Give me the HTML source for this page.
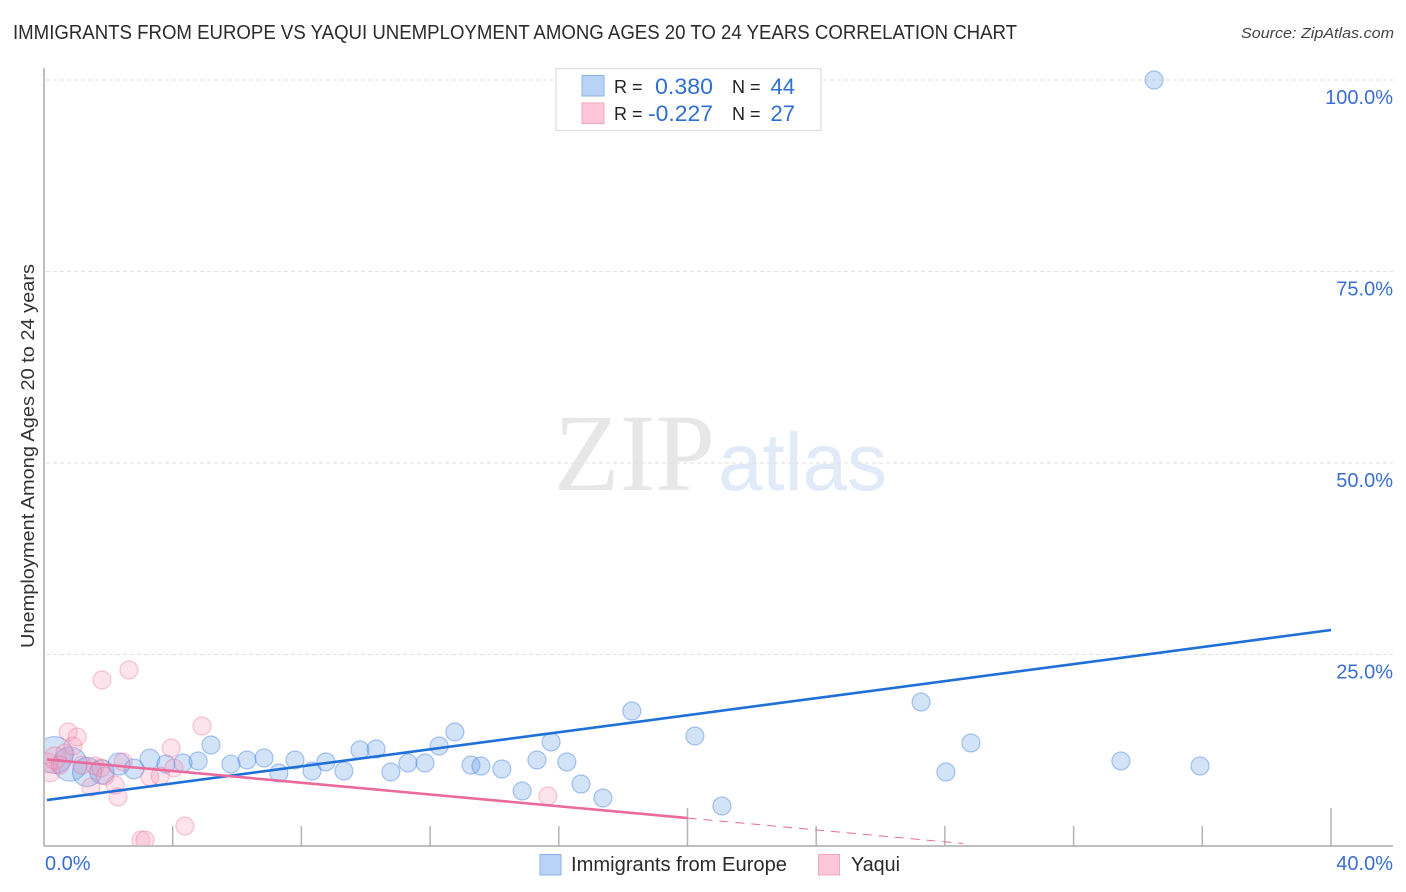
<!DOCTYPE html>
<html lang="en">
<head>
<meta charset="utf-8">
<title>Immigrants from Europe vs Yaqui Unemployment Correlation Chart</title>
<style>
html,body{margin:0;padding:0;background:#fff;}
svg{display:block;font-family:"Liberation Sans",sans-serif;}
</style>
</head>
<body>
<svg id="chart" xmlns="http://www.w3.org/2000/svg" width="1406" height="892" viewBox="0 0 1406 892">
  <defs>
    <clipPath id="plot-clip"><rect x="45" y="60" width="1361" height="785"/></clipPath>
  </defs>
  <rect x="0" y="0" width="1406" height="892" fill="#ffffff"/>
  <text x="13" y="39" font-size="20" fill="#2b2b2b" textLength="1004" lengthAdjust="spacingAndGlyphs">IMMIGRANTS FROM EUROPE VS YAQUI UNEMPLOYMENT AMONG AGES 20 TO 24 YEARS CORRELATION CHART</text>
  <text x="1241" y="38" font-size="15" font-style="italic" fill="#444" textLength="153" lengthAdjust="spacingAndGlyphs">Source: ZipAtlas.com</text>
  <g>
    <text x="554" y="490" font-family="'Liberation Serif',serif" font-size="110" fill="#e7e7e7" textLength="161" lengthAdjust="spacingAndGlyphs">ZIP</text>
    <text x="718" y="490" font-size="82" fill="#e0eaf8" textLength="169" lengthAdjust="spacingAndGlyphs">atlas</text>
  </g>
  <g id="grid"></g>
  <g id="ticks"></g>
  <line x1="44" y1="68" x2="44" y2="846" stroke="#aaaaaa" stroke-width="1.5"/>
  <line x1="44" y1="846" x2="1393" y2="846" stroke="#aaaaaa" stroke-width="1.5"/>
  <g id="dots-blue" clip-path="url(#plot-clip)"></g>
  <g id="dots-pink" clip-path="url(#plot-clip)"></g>
  <g id="trends"></g>
  <g id="y-labels"></g>
  <g id="x-labels"></g>
  <text transform="translate(34,648) rotate(-90)" font-size="18" fill="#333" textLength="384" lengthAdjust="spacingAndGlyphs">Unemployment Among Ages 20 to 24 years</text>

  <g>
    <rect x="556" y="68.5" width="265" height="62" fill="#ffffff" stroke="#dddddd" stroke-width="1.2"/>
    <rect x="582" y="75.5" width="22" height="20.5" fill="#b9d3f7" stroke="#8ab0e8" stroke-width="1"/>
    <rect x="582" y="103" width="22" height="20.5" fill="#fcc6d8" stroke="#f2a6bf" stroke-width="1"/>
    <text x="614" y="93" font-size="18" fill="#222">R =</text>
    <text x="614" y="120" font-size="18" fill="#222">R =</text>
    <text x="713" y="94" font-size="22" fill="#2f6fd0" text-anchor="end" textLength="58" lengthAdjust="spacingAndGlyphs">0.380</text>
    <text x="713" y="121" font-size="22" fill="#2f6fd0" text-anchor="end" textLength="65" lengthAdjust="spacingAndGlyphs">-0.227</text>
    <text x="732" y="93" font-size="18" fill="#222">N =</text>
    <text x="732" y="120" font-size="18" fill="#222">N =</text>
    <text x="795" y="94" font-size="22" fill="#2f6fd0" text-anchor="end">44</text>
    <text x="795" y="121" font-size="22" fill="#2f6fd0" text-anchor="end">27</text>
  </g>

  <g>
    <rect x="540" y="854.5" width="21" height="20.5" fill="#b9d3f7" stroke="#8ab0e8" stroke-width="1"/>
    <text x="571" y="871" font-size="20" fill="#2b2b2b" textLength="216" lengthAdjust="spacingAndGlyphs">Immigrants from Europe</text>
    <rect x="818.5" y="854.5" width="21" height="20.5" fill="#fcc6d8" stroke="#f2a6bf" stroke-width="1"/>
    <text x="851" y="871" font-size="20" fill="#2b2b2b" textLength="49" lengthAdjust="spacingAndGlyphs">Yaqui</text>
  </g>
</svg>
<script>
const yTickValues = [100, 75, 50, 25];
const yTickLabels = ["100.0%", "75.0%", "50.0%", "25.0%"];
const xTickValues = [4, 8, 12, 16, 20, 24, 28, 32, 36, 40];
const xMajorTicks = [20, 40];
const xEndValues = [0, 40];
const xEndLabels = ["0.0%", "40.0%"];

const blueX = [0.33,0.81,1.34,1.80,2.33,2.80,3.29,3.79,4.32,4.79,5.19,5.81,6.31,6.84,7.30,7.80,8.33,8.76,9.32,9.82,10.32,10.78,11.31,11.84,12.28,12.77,13.27,13.58,14.23,14.86,15.32,15.76,16.25,16.69,17.37,18.27,20.23,21.07,27.26,28.03,28.81,33.47,34.50,35.93];
const blueY = [11.88,10.70,9.66,9.66,10.70,10.05,11.36,10.70,10.84,11.10,13.19,10.70,11.23,11.49,9.53,11.23,9.79,10.97,9.79,12.53,12.66,9.66,10.84,10.84,13.05,14.88,10.57,10.44,10.05,7.18,11.23,13.58,10.97,8.09,6.27,17.62,14.36,5.22,18.80,9.66,13.45,11.10,100,10.44];
const blueWeight = [4.2,3.6,2.6,1.8,1.5,1.2,1.2,1,1,1,1,1,1,1,1,1,1,1,1,1,1,1,1,1,1,1,1,1,1,1,1,1,1,1,1,1,1,1,1,1,1,1,1,1];

const pinkX = [0.12,0.19,0.34,0.50,0.65,0.75,0.90,1.03,1.18,1.46,1.59,1.77,1.80,1.90,2.21,2.30,2.46,2.64,3.01,3.14,3.29,3.61,3.95,4.04,4.38,4.91,15.66];
const pinkY = [10.84,9.66,11.49,10.57,12.14,14.88,13.05,14.23,10.57,7.70,10.44,10.18,21.67,9.14,7.96,6.40,10.97,22.98,0.78,0.78,9.01,9.14,12.79,10.18,2.61,15.67,6.53];
const pinkWeight = [1.2,1.2,1.5,1,1,1,1,1,1,1,1,1,1,1,1,1,1,1,1,1,1,1,1,1,1,1,1];

const blueTrendX = [0.09, 40];
const blueTrendY = [6.0, 28.2];
const pinkTrendX = [0.09, 20.0];
const pinkTrendY = [11.3, 3.65];
const pinkDashX = [20.0, 28.56];
const pinkDashY = [3.65, 0.33];

const SVGNS = "http://www.w3.org/2000/svg";
function xScale(v) { return 44 + v * (1331 - 44) / 40; }
function yScale(v) { return 846 - v * (846 - 80) / 100; }
function rScale(w) { return 9 * Math.sqrt(w); }
function make(tag, parentId, props) {
  const el = document.createElementNS(SVGNS, tag);
  Object.keys(props).forEach(function (k) { el.setAttribute(k, props[k]); });
  document.getElementById(parentId).appendChild(el);
  return el;
}

yTickValues.forEach(function (v, i) {
  const line = make("line", "grid", {x1: 46, x2: 1393, y1: yScale(v), y2: yScale(v), stroke: "#e0e0e0", "stroke-width": 1, "stroke-dasharray": "4 3"});
  
  
  const label = make("text", "y-labels", {x: 1393, y: yScale(v) + 24, "text-anchor": "end", "font-size": 20, fill: "#3a6fd0"});
  label.textContent = yTickLabels[i];
  
  
});

xTickValues.forEach(function (v) {
  const top = xMajorTicks.indexOf(v) >= 0 ? 808 : 826;
  const tick = make("line", "ticks", {x1: xScale(v), x2: xScale(v), y1: top, y2: 846, stroke: "#b4b4b4", "stroke-width": 1.5});
  
  
});

xEndValues.forEach(function (v, i) {
  const label = make("text", "x-labels", {x: i === 0 ? xScale(v) + 1 : 1393, y: 870, "text-anchor": i === 0 ? "start" : "end", "font-size": 20, fill: "#3a6fd0"});
  label.textContent = xEndLabels[i];
  
  
});

blueX.forEach(function (v, i) {
  const dot = make("circle", "dots-blue", {cx: xScale(v), cy: yScale(blueY[i]), r: rScale(blueWeight[i]), fill: "rgba(105,162,232,0.3)", stroke: "rgba(70,130,225,0.45)", "stroke-width": 1.2});
  
  
});

pinkX.forEach(function (v, i) {
  const dot = make("circle", "dots-pink", {cx: xScale(v), cy: yScale(pinkY[i]), r: rScale(pinkWeight[i]), fill: "rgba(248,150,185,0.27)", stroke: "rgba(235,110,150,0.38)", "stroke-width": 1.2});
  
  
});

const blueTrend = make("line", "trends", {x1: xScale(blueTrendX[0]), y1: yScale(blueTrendY[0]), x2: xScale(blueTrendX[1]), y2: yScale(blueTrendY[1]), stroke: "#1f6fd8", "stroke-width": 2.6});



const pinkTrend = make("line", "trends", {x1: xScale(pinkTrendX[0]), y1: yScale(pinkTrendY[0]), x2: xScale(pinkTrendX[1]), y2: yScale(pinkTrendY[1]), stroke: "#e96a9b", "stroke-width": 2.6});



const pinkDash = make("line", "trends", {x1: xScale(pinkDashX[0]), y1: yScale(pinkDashY[0]), x2: xScale(pinkDashX[1]), y2: yScale(pinkDashY[1]), stroke: "#e96a9b", "stroke-width": 1, "stroke-dasharray": "9 7"});


</script>
</body>
</html>
